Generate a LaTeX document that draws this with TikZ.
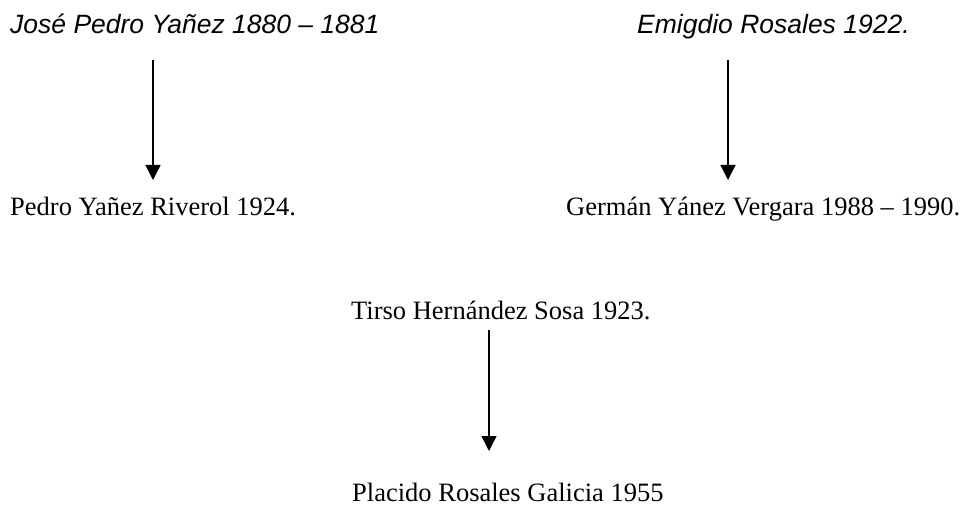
\documentclass[tikz,border=0pt]{standalone}
\usepackage{fontspec}
\setmainfont{Liberation Serif}
\newfontfamily\arialfont{Liberation Sans}
\usetikzlibrary{arrows.meta}
\begin{document}
\begin{tikzpicture}[x=1pt,y=1pt,
  serif/.style={anchor=base west,inner sep=0pt,font=\fontsize{26.5}{30}\selectfont},
  sansit/.style={anchor=base west,inner sep=0pt,font=\arialfont\itshape\fontsize{26.5}{30}\selectfont},
  link/.style={line width=1.3pt,-{Triangle[width=15pt,length=15pt]}}]
\useasboundingbox (0,0) rectangle (968,504);
\node[sansit] (jose) at (10,470) {José Pedro Yañez 1880 – 1881};
\node[sansit] (emig) at (637,470) {Emigdio Rosales 1922.};
\node[serif] (pedro) at (10,289) {Pedro Yañez Riverol 1924.};
\node[serif] (german) at (566,289) {Germán Yánez Vergara 1988 – 1990.};
\node[serif] (tirso) at (351,185) {Tirso Hernández Sosa 1923.};
\node[serif] (placido) at (352,3) {Placido Rosales Galicia 1955};
\coordinate (a1s) at (153,444);
\coordinate (a1e) at (153,324);
\coordinate (a2s) at (728,444);
\coordinate (a2e) at (728,324);
\coordinate (a3s) at (489,174);
\coordinate (a3e) at (489,53);
\draw[link] (a1s) -- (a1e);
\draw[link] (a2s) -- (a2e);
\draw[link] (a3s) -- (a3e);
\end{tikzpicture}
\end{document}
